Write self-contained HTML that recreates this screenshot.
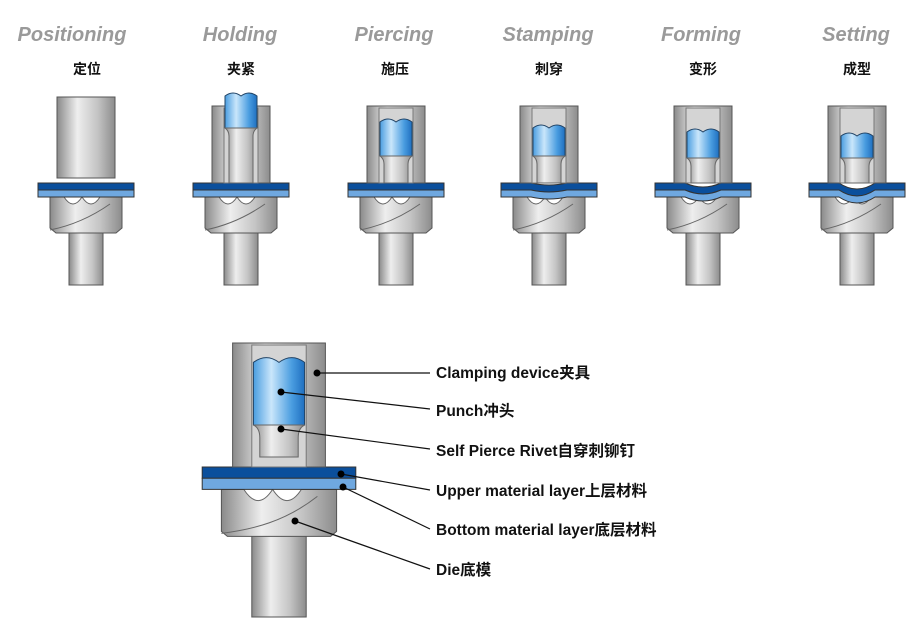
<!DOCTYPE html>
<html><head><meta charset="utf-8"><style>
body{margin:0;background:#fff;}
svg{display:block}
.t{font:italic bold 20px "Liberation Sans",sans-serif;fill:#9a9a9a;text-anchor:middle}
.c{font:bold 14px "Liberation Sans","Noto Sans CJK SC",sans-serif;fill:#111;text-anchor:middle}
.l{font:bold 15.5px "Liberation Sans","Noto Sans CJK SC",sans-serif;fill:#111}
</style></head><body>
<svg id="s" width="916" height="633" viewBox="0 0 916 633" xmlns="http://www.w3.org/2000/svg">
<defs>
<linearGradient id="g" x1="0" x2="1"><stop offset="0" stop-color="#8a8a8a"/><stop offset=".35" stop-color="#eeeeee"/><stop offset=".7" stop-color="#c4c4c4"/><stop offset="1" stop-color="#8c8c8c"/></linearGradient>
<linearGradient id="b" x1="0" x2="1"><stop offset="0" stop-color="#4a9de0"/><stop offset=".35" stop-color="#c9e6fb"/><stop offset=".75" stop-color="#4a9de0"/><stop offset="1" stop-color="#1f6fc0"/></linearGradient>
</defs>
<g id="art"></g>
<text class="t" x="72" y="41">Positioning</text>
<text class="t" x="240" y="41">Holding</text>
<text class="t" x="394" y="41">Piercing</text>
<text class="t" x="548" y="41">Stamping</text>
<text class="t" x="701" y="41">Forming</text>
<text class="t" x="856" y="41">Setting</text>
<text class="c" x="87" y="74">定位</text>
<text class="c" x="241" y="74">夹紧</text>
<text class="c" x="395" y="74">施压</text>
<text class="c" x="549" y="74">刺穿</text>
<text class="c" x="703" y="74">变形</text>
<text class="c" x="857" y="74">成型</text>
<text class="l" x="436" y="378">Clamping device夹具</text>
<text class="l" x="436" y="416">Punch冲头</text>
<text class="l" x="436" y="456">Self Pierce Rivet自穿刺铆钉</text>
<text class="l" x="436" y="496">Upper material layer上层材料</text>
<text class="l" x="436" y="535">Bottom material layer底层材料</text>
<text class="l" x="436" y="575">Die底模</text>
</svg>
<script>
var a=document.getElementById('art'),h='';
function R(x,y,w,hh,f,s){h+='<rect x="'+x+'" y="'+y+'" width="'+w+'" height="'+hh+'" fill="'+f+'" stroke="'+(s||'#555')+'" stroke-width="1"/>';}
function stage(cx,k,S,top,sy,dh,shb,pt,rv){
 var W=29*S, dt=sy+14*S, db=dt+dh;
 R(cx-17*S,db-4,34*S,shb-db+4,'url(#g)');
 h+='<path d="M'+(cx-36*S)+' '+dt+'h'+72*S+'v'+(dh-5)+'l-6 5h'+(-72*S+12)+'l-6 -5z" fill="url(#g)" stroke="#555"/>';
 h+='<path d="M'+(cx-36*S)+' '+(db-3)+'c'+20*S+' -4 '+40*S+' -12 '+60*S+' '+(dt-db+10)+'" fill="none" stroke="#666"/>';
 h+='<path d="M'+(cx-22*S)+' '+dt+'q'+9*S+' '+14*S+' '+18*S+' 0q'+9*S+' '+14*S+' '+18*S+' 0" fill="#fff" stroke="#666"/>';
 var d=(k>=3&&k<6)?Math.min(k-2,3)*4*S:0;
 h+='<path d="M'+(cx-48*S)+' '+sy+'h'+30*S+'q'+18*S+' '+d+' '+36*S+' 0h'+30*S+'v'+7*S+'h'+(-30*S)+'q'+(-18*S)+' '+d+' '+(-36*S)+' 0h'+(-30*S)+'z" fill="#0b4f9c" stroke="#333"/>';
 h+='<path d="M'+(cx-48*S)+' '+(sy+7*S)+'h'+30*S+'q'+18*S+' '+d+' '+36*S+' 0h'+30*S+'v'+7*S+'h'+(-30*S)+'q'+(-18*S)+' '+d+' '+(-36*S)+' 0h'+(-30*S)+'z" fill="#6fa8e0" stroke="#333"/>';
 var cb=k==0?sy-5:sy;
 R(cx-W,top,2*W,cb-top,'url(#g)');
 if(k>0){
  R(cx-17*S,top+2,34*S,cb-top-2,'#d4d4d4','#777');
  h+='<path d="M'+(cx-16*S)+' '+(pt+4*S)+'q'+8*S+' '+(-6*S)+' '+16*S+' 0q'+8*S+' '+(-6*S)+' '+16*S+' 0V'+rv+'H'+(cx-16*S)+'z" fill="url(#b)" stroke="#246"/>';
  var rh=Math.max(cb-rv-8*S-(k==6?10:0),4);
  h+='<path d="M'+(cx-16*S)+' '+rv+'h'+32*S+'q-'+4*S+' 3 -'+4*S+' '+8*S+'v'+rh+'h-'+24*S+'v-'+rh+'q0 -'+(8*S-3)+' -'+4*S+' -'+8*S+'z" fill="url(#g)" stroke="#666"/>';
 }
}
var cs=[86,241,396,549,703,857];
var pts=[0,92,118,124,128,132], rvs=[0,128,156,156,158,158];
for(var i=0;i<6;i++)stage(cs[i],i,1,[97,106,106,106,106,106][i],183,36,285,pts[i],rvs[i]);
stage(279,6,1.6,343,467,47,617,356,425);
a.innerHTML=h;
var L=[[317,373,430,373],[281,392,430,409],[281,429,430,449],[341,474,430,490],[343,487,430,529],[295,521,430,569]],s='';
L.forEach(function(p){s+='<line x1="'+p[0]+'" y1="'+p[1]+'" x2="'+p[2]+'" y2="'+p[3]+'" stroke="#111" stroke-width="1.2"/><circle cx="'+p[0]+'" cy="'+p[1]+'" r="3.5" fill="#000"/>';});
a.innerHTML+=s;
</script>
</body></html>
